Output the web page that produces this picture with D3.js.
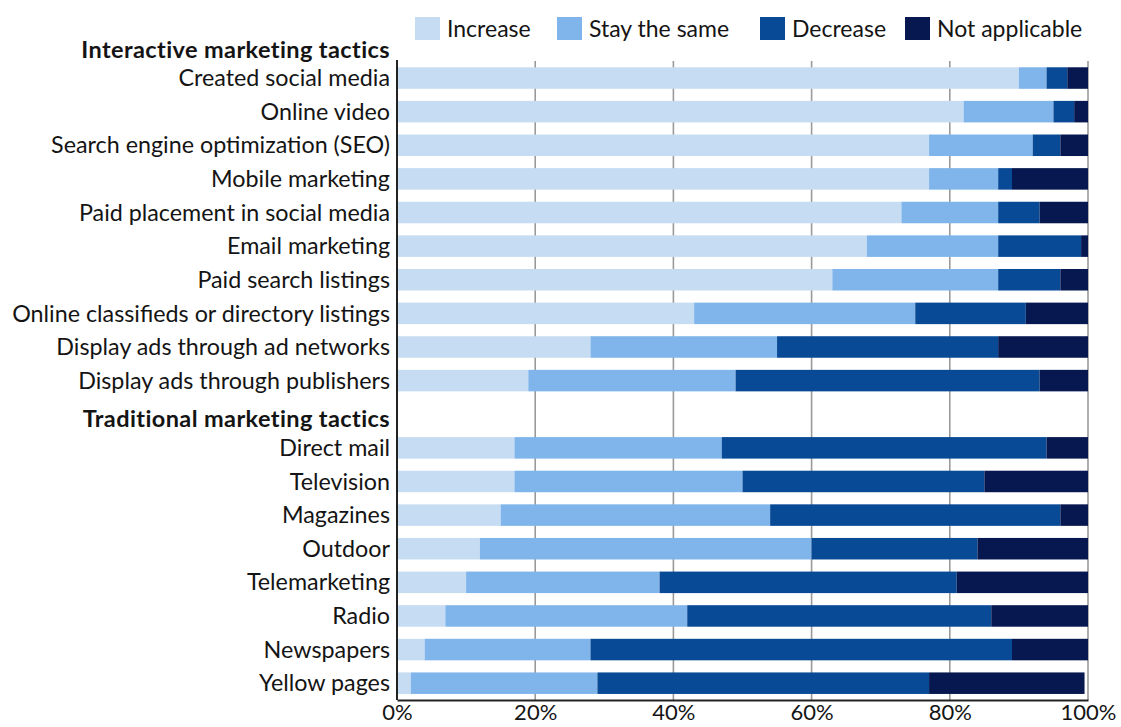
<!DOCTYPE html>
<html>
<head>
<meta charset="utf-8">
<script src="https://cdn.jsdelivr.net/npm/d3@7"></script>
<style>
  html, body { margin: 0; padding: 0; background: #fff; }
  svg text { font-family: Lato, "Open Sans", sans-serif; fill: #141414; }
</style>
</head>
<body>
<svg id="chart" width="1121" height="727"></svg>
<script>
// Planned change in spending by marketing tactic (share of respondents, %)
const seriesNames = ["Increase", "Stay the same", "Decrease", "Not applicable"];
const seriesColors = ["#c6dcf2", "#7fb5ea", "#084a96", "#06184f"];

const groups = ["Interactive marketing tactics", "Traditional marketing tactics"];

const interactiveTactics = [
  "Created social media", "Online video", "Search engine optimization (SEO)",
  "Mobile marketing", "Paid placement in social media", "Email marketing",
  "Paid search listings", "Online classifieds or directory listings",
  "Display ads through ad networks", "Display ads through publishers"
];
const traditionalTactics = [
  "Direct mail", "Television", "Magazines", "Outdoor",
  "Telemarketing", "Radio", "Newspapers", "Yellow pages"
];

// [Increase, Stay the same, Decrease, Not applicable]
const interactiveValues = [
  [90, 4, 3, 3],
  [82, 13, 3, 2],
  [77, 15, 4, 4],
  [77, 10, 2, 11],
  [73, 14, 6, 7],
  [68, 19, 12, 1],
  [63, 24, 9, 4],
  [43, 32, 16, 9],
  [28, 27, 32, 13],
  [19, 30, 44, 7]
];
const traditionalValues = [
  [17, 30, 47, 6],
  [17, 33, 35, 15],
  [15, 39, 42, 4],
  [12, 48, 24, 16],
  [10, 28, 43, 19],
  [7, 35, 44, 14],
  [4, 24, 61, 11],
  [2, 27, 48, 22.5]
];

const tickValues = [0, 20, 40, 60, 80, 100];

// Row list: a header row, then its tactics, for each group
const rows = [];
rows.push({ key: "h0", label: groups[0], header: true });
interactiveTactics.forEach((t, i) => rows.push({ key: "i" + i, label: t, values: interactiveValues[i] }));
rows.push({ key: "h1", label: groups[1], header: true });
traditionalTactics.forEach((t, i) => rows.push({ key: "t" + i, label: t, values: traditionalValues[i] }));

const svg = d3.select("#chart");
const plotLeft = 397, plotRight = 1088, plotTop = 27.6, plotBottom = 700;

const x = d3.scaleLinear().domain([0, 100]).range([plotLeft, plotRight]);
const y = d3.scaleBand().domain(rows.map(r => r.key)).range([plotTop, plotBottom]).paddingInner(0.36).paddingOuter(0.18);

// Gridlines
const gridTop = 61;
svg.append("g").selectAll("line")
  .data(tickValues.filter(d => d > 0))
  .join("line")
  .attr("x1", d => x(d)).attr("x2", d => x(d))
  .attr("y1", gridTop).attr("y2", plotBottom)
  .attr("stroke", "#9a9a9a").attr("stroke-width", 1.6);

// Stacked bars
const stackRows = rows.filter(r => !r.header).map(r => {
  const o = { key: r.key };
  seriesNames.forEach((s, i) => o[s] = r.values[i]);
  return o;
});
const stacked = d3.stack().keys(seriesNames)(stackRows);

svg.append("g").selectAll("g")
  .data(stacked)
  .join("g")
  .attr("fill", (d, i) => seriesColors[i])
  .selectAll("rect")
  .data(d => d)
  .join("rect")
  .attr("x", d => x(d[0]))
  .attr("width", d => x(d[1]) - x(d[0]))
  .attr("y", d => y(d.data.key))
  .attr("height", y.bandwidth());

// Axis lines (left and bottom)
svg.append("line")
  .attr("x1", plotLeft).attr("x2", plotLeft).attr("y1", gridTop - 1).attr("y2", plotBottom)
  .attr("stroke", "#222").attr("stroke-width", 2);

const xAxis = d3.axisBottom(x).tickValues(tickValues).tickFormat(d => d + "%").tickSize(0).tickPadding(4);
const gx = svg.append("g").attr("transform", `translate(0,${plotBottom})`).call(xAxis);
gx.select(".domain").attr("stroke", "#222").attr("stroke-width", 2);
gx.selectAll("text").attr("font-size", 22).style("font-family", "Lato, sans-serif").attr("fill", "#141414");

// Row labels
svg.append("g").selectAll("text")
  .data(rows)
  .join("text")
  .attr("x", 390)
  .attr("y", d => y(d.key) + y.bandwidth() / 2 + (d.header ? 5 : 0))
  .attr("dy", "0.35em")
  .attr("text-anchor", "end")
  .attr("font-size", d => d.header ? 23.5 : 23.3)
  .attr("font-weight", d => d.header ? 700 : 400)
  .attr("letter-spacing", d => d.header ? "0.4px" : "0px")
  .text(d => d.label);

// Legend
const legendX = [415, 557, 760, 905];
const legend = svg.append("g").selectAll("g")
  .data(seriesNames)
  .join("g")
  .attr("transform", (d, i) => `translate(${legendX[i]},17)`);
legend.append("rect")
  .attr("width", 25).attr("height", 23)
  .attr("fill", (d, i) => seriesColors[i]);
legend.append("text")
  .attr("x", 32).attr("y", 12).attr("dy", "0.35em")
  .attr("font-size", 23)
  .text(d => d);
</script>
</body>
</html>
